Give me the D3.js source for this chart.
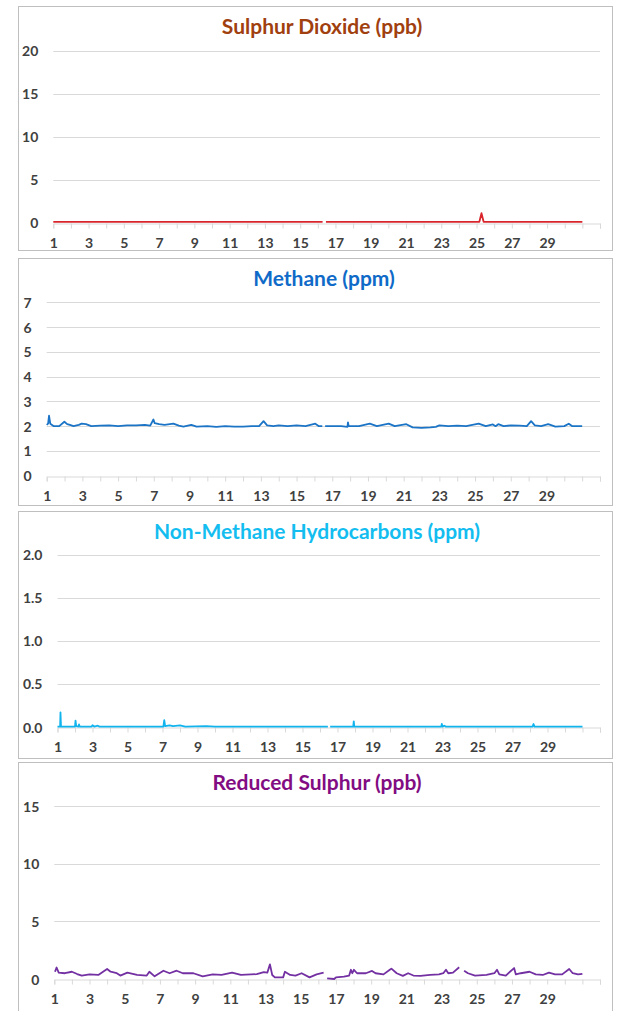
<!DOCTYPE html>
<html>
<head>
<meta charset="utf-8">
<script src="https://cdn.jsdelivr.net/npm/d3@7"></script>
<style>
  html, body { margin: 0; padding: 0; background: #fff; }
  svg { display: block; font-family: Lato, "Open Sans", sans-serif; }
</style>
</head>
<body>
<svg id="chart" width="632" height="1011"></svg>
<script>
// ---------- Data (day of month, value); null = gap ----------
const xTickDays = d3.range(1, 33);
const xLabelDays = [1, 3, 5, 7, 9, 11, 13, 15, 17, 19, 21, 23, 25, 27, 29];

const so2Ticks = [0, 5, 10, 15, 20];
const methaneTicks = [0, 1, 2, 3, 4, 5, 6, 7];
const nmhcTicks = [0, 0.5, 1.0, 1.5, 2.0];
const trsTicks = [0, 5, 10, 15];

const so2Points = [
  [1, 0.1], [8, 0.1], [16.27, 0.1], [16.36, null], [16.46, 0.1],
  [25.16, 0.1], [25.28, 1.1], [25.4, 0.1], [31, 0.1]
];

const methanePoints = [
  [1, 2.05], [1.08, 2.1], [1.13, 2.42], [1.2, 2.1], [1.4, 2.0], [1.7, 2.0],
  [1.99, 2.18], [2.15, 2.08], [2.3, 2.05], [2.5, 2.0], [2.8, 2.05], [2.96, 2.1],
  [3.2, 2.08], [3.5, 2.0], [4.0, 2.02], [4.5, 2.03], [5.0, 2.0], [5.5, 2.03],
  [6.0, 2.03], [6.5, 2.05], [6.8, 2.02], [6.98, 2.27], [7.05, 2.12], [7.3, 2.08],
  [7.6, 2.05], [8.1, 2.1], [8.4, 2.02], [8.66, 1.98], [9.1, 2.05], [9.4, 1.98],
  [10.0, 2.0], [10.5, 1.97], [11.0, 2.0], [11.5, 1.98], [12.0, 1.98], [12.5, 2.0],
  [12.9, 2.0], [13.15, 2.2], [13.35, 2.03], [13.7, 2.0], [14.0, 2.03], [14.5, 2.0],
  [15.0, 2.03], [15.5, 2.0], [16.05, 2.1], [16.25, 2.0], [16.44, 2.0], [16.52, null],
  [16.6, 2.0], [17.0, 2.0], [17.5, 2.0], [17.85, 1.97], [17.88, 2.15], [17.92, 2.0],
  [18.5, 2.0], [19.1, 2.1], [19.5, 2.0], [20.16, 2.1], [20.5, 2.0], [21.15, 2.08],
  [21.5, 1.95], [22.0, 1.93], [22.5, 1.95], [22.8, 1.97], [23.0, 2.03], [23.5, 2.0],
  [24.0, 2.02], [24.5, 2.0], [25.2, 2.1], [25.6, 2.0], [26.0, 2.07], [26.15, 2.0],
  [26.3, 2.08], [26.6, 2.0], [27.0, 2.03], [27.5, 2.02], [27.9, 2.0], [28.14, 2.2],
  [28.35, 2.03], [28.7, 2.0], [29.1, 2.08], [29.5, 1.98], [30.0, 2.0], [30.25, 2.1],
  [30.45, 2.0], [31.0, 2.0]
];

const nmhcPoints = [
  [1, 0.005], [1.15, 0.005], [1.17, 0.17], [1.2, 0.005], [2.0, 0.005], [2.03, 0.075],
  [2.07, 0.01], [2.2, 0.005], [2.23, 0.03], [2.27, 0.005], [2.95, 0.005], [3.0, 0.02],
  [3.1, 0.005], [3.3, 0.015], [3.4, 0.005], [7.05, 0.005], [7.1, 0.08], [7.15, 0.01],
  [7.4, 0.02], [7.6, 0.01], [8.0, 0.02], [8.3, 0.005], [9.5, 0.01], [10.0, 0.005],
  [16.45, 0.005], [16.5, null], [16.58, 0.005], [17.9, 0.005], [17.93, 0.066],
  [17.96, 0.005], [22.93, 0.005], [22.96, 0.035], [23.0, 0.005], [23.1, 0.015],
  [23.2, 0.005], [28.15, 0.005], [28.2, 0.035], [28.26, 0.005], [31, 0.005]
];

const trsPoints = [
  [1.04, 0.63], [1.13, 1.0], [1.25, 0.55], [1.6, 0.5], [2.0, 0.63], [2.3, 0.43],
  [2.56, 0.29], [3.0, 0.4], [3.5, 0.35], [4.0, 0.87], [4.2, 0.63], [4.55, 0.5],
  [4.75, 0.3], [5.15, 0.55], [5.7, 0.35], [6.25, 0.3], [6.4, 0.63], [6.7, 0.23],
  [7.2, 0.72], [7.55, 0.5], [7.95, 0.72], [8.3, 0.5], [8.9, 0.5], [9.43, 0.23],
  [10.0, 0.4], [10.5, 0.35], [11.1, 0.55], [11.6, 0.35], [12.5, 0.42], [12.9, 0.6],
  [13.1, 0.55], [13.25, 1.27], [13.38, 0.35], [13.53, 0.14], [14.0, 0.14], [14.1, 0.63],
  [14.4, 0.35], [14.7, 0.3], [15.05, 0.5], [15.5, 0.14], [15.9, 0.4], [16.3, 0.55],
  [16.4, null], [16.5, 0.06], [16.9, 0.0], [17.0, 0.15], [17.45, 0.2], [17.75, 0.3],
  [17.85, 0.8], [17.93, 0.5], [18.02, 0.8], [18.2, 0.5], [18.7, 0.5], [19.05, 0.7],
  [19.25, 0.5], [19.7, 0.4], [20.06, 0.8], [20.15, 0.9], [20.45, 0.5], [20.8, 0.27],
  [21.1, 0.5], [21.4, 0.3], [21.8, 0.27], [22.35, 0.35], [22.85, 0.4], [23.1, 0.5],
  [23.25, 0.8], [23.38, 0.5], [23.65, 0.55], [24.0, 1.02], [24.1, null], [24.28, 0.72],
  [24.5, 0.5], [24.9, 0.3], [25.55, 0.35], [26.0, 0.5], [26.15, 0.8], [26.28, 0.4],
  [26.65, 0.3], [27.12, 0.95], [27.22, 0.4], [27.5, 0.5], [28.0, 0.63], [28.35, 0.4],
  [28.75, 0.35], [29.1, 0.55], [29.45, 0.4], [29.85, 0.4], [30.25, 0.87], [30.45, 0.5],
  [30.75, 0.4], [31.0, 0.45]
];

// ---------- Panel layout ----------
const panels = [
  { title: "Sulphur Dioxide (ppb)", titleColor: "#A0400F", lineColor: "#D9262C",
    points: so2Points, ticks: so2Ticks, fmt: d3.format("d"),
    frameTop: 6, frameBottom: 250, titleY: 25, x0: 53.3, yTop: 50.7, yZero: 222.7, titleX: 322 },
  { title: "Methane (ppm)", titleColor: "#0F6AC8", lineColor: "#1B74C6",
    points: methanePoints, ticks: methaneTicks, fmt: d3.format("d"),
    frameTop: 258, frameBottom: 505, titleY: 277, x0: 46.7, yTop: 302.3, yZero: 475.7, titleX: 324 },
  { title: "Non-Methane Hydrocarbons (ppm)", titleColor: "#13BDF0", lineColor: "#12B4EE",
    points: nmhcPoints, ticks: nmhcTicks, fmt: d3.format(".1f"),
    frameTop: 511, frameBottom: 758, titleY: 530, x0: 57.5, yTop: 554.7, yZero: 727, titleX: 317 },
  { title: "Reduced Sulphur (ppb)", titleColor: "#820C82", lineColor: "#7330A2",
    points: trsPoints, ticks: trsTicks, fmt: d3.format("d"),
    frameTop: 762, frameBottom: 1016, titleY: 781.5, x0: 54.3, yTop: 806.3, yZero: 979, titleX: 317 }
];

const svg = d3.select("#chart");
const frameLeft = 18, frameRight = 612, plotRight = 600;

panels.forEach(p => {
  const g = svg.append("g");

  g.append("rect")
    .attr("x", frameLeft + 0.5).attr("y", p.frameTop + 0.5)
    .attr("width", frameRight - frameLeft).attr("height", p.frameBottom - p.frameTop)
    .attr("fill", "#fff").attr("stroke", "#BFBFBF").attr("stroke-width", 1);

  const x = d3.scaleLinear().domain([1, 32]).range([p.x0, plotRight]);
  const yMax = d3.max(p.ticks);
  const y = d3.scaleLinear().domain([0, yMax]).range([p.yZero, p.yTop]);

  // gridlines
  g.selectAll(".grid").data(p.ticks.filter(t => t > 0)).join("line")
    .attr("x1", p.x0).attr("x2", plotRight)
    .attr("y1", d => Math.round(y(d)) + 0.5).attr("y2", d => Math.round(y(d)) + 0.5)
    .attr("stroke", "#D9D9D9").attr("stroke-width", 1);

  // y labels
  g.selectAll(".ylab").data(p.ticks).join("text")
    .attr("x", p.x0 - 15).attr("y", d => y(d))
    .attr("text-anchor", "end").attr("dominant-baseline", "central")
    .attr("font-size", 14).attr("font-weight", "bold").attr("fill", "#404040")
    .text(d => p.fmt(d));

  // x axis
  const xAxis = d3.axisBottom(x)
    .tickValues(xTickDays)
    .tickSize(5).tickPadding(10)
    .tickFormat(d => xLabelDays.includes(d) ? d : "");
  const ax = g.append("g")
    .attr("transform", `translate(0,${Math.round(p.yZero) + 0.5})`)
    .call(xAxis);
  ax.select(".domain").attr("stroke", "#D9D9D9");
  ax.selectAll(".tick line").attr("stroke", "#D9D9D9");
  ax.selectAll(".tick text")
    .attr("font-family", "Lato, sans-serif").attr("font-size", 14)
    .attr("font-weight", "bold").attr("fill", "#404040");

  // line
  const line = d3.line()
    .defined(d => d[1] !== null)
    .x(d => x(d[0])).y(d => y(d[1]));
  g.append("path")
    .datum(p.points)
    .attr("d", line)
    .attr("fill", "none").attr("stroke", p.lineColor)
    .attr("stroke-width", 1.8).attr("stroke-linejoin", "round");

  // title
  g.append("text")
    .attr("x", p.titleX).attr("y", p.titleY)
    .attr("text-anchor", "middle").attr("dominant-baseline", "central")
    .attr("font-size", 21).attr("font-weight", "bold").attr("fill", p.titleColor)
    .text(p.title);
});
</script>
</body>
</html>
